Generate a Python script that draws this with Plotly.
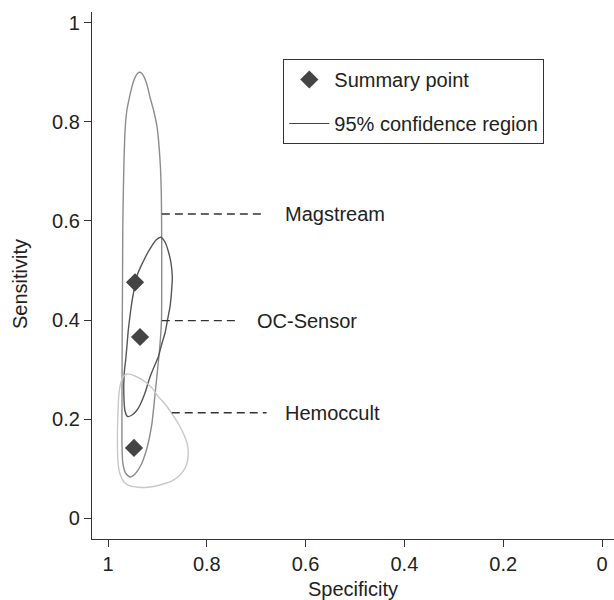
import plotly.graph_objects as go

# ---- data ----
# 95% confidence regions (specificity, sensitivity)
mag_spec = [0.9358, 0.9317, 0.9275, 0.9234, 0.9192, 0.9150, 0.9079, 0.9008, 0.8947, 0.8921,
            0.8913, 0.8913, 0.8917, 0.8957, 0.9008, 0.9059, 0.9115, 0.9211, 0.9332, 0.9453,
            0.9555, 0.9646, 0.9700, 0.9717, 0.9717, 0.9713, 0.9706, 0.9702, 0.9696, 0.9676,
            0.9650, 0.9617, 0.9566, 0.9524, 0.9483, 0.9441, 0.9400, 0.9358]
mag_sens = [0.9000, 0.8979, 0.8918, 0.8818, 0.8676, 0.8495, 0.8239, 0.7902, 0.7230, 0.6564,
            0.5615, 0.4808, 0.4001, 0.3396, 0.2891, 0.2387, 0.1883, 0.1419, 0.1075, 0.0894,
            0.0833, 0.0914, 0.1116, 0.1479, 0.2387, 0.3598, 0.4808, 0.5615, 0.6221, 0.7230,
            0.7902, 0.8239, 0.8495, 0.8676, 0.8818, 0.8918, 0.8979, 0.9000]

oc_spec = [0.8933, 0.8846, 0.8775, 0.8725, 0.8698, 0.8715, 0.8745, 0.8796, 0.8846, 0.8917,
           0.8982, 0.9069, 0.9150, 0.9251, 0.9352, 0.9419, 0.9514, 0.9605, 0.9656, 0.9676,
           0.9680, 0.9666, 0.9642, 0.9615, 0.9589, 0.9545, 0.9500, 0.9443, 0.9393, 0.9291,
           0.9200, 0.9115, 0.9028, 0.8933]
oc_sens = [0.5670, 0.5575, 0.5373, 0.5151, 0.4869, 0.4566, 0.4264, 0.4001, 0.3739, 0.3497,
           0.3255, 0.3053, 0.2851, 0.2528, 0.2286, 0.2175, 0.2084, 0.2054, 0.2165, 0.2387,
           0.2730, 0.2992, 0.3194, 0.3497, 0.3799, 0.4163, 0.4465, 0.4748, 0.4950, 0.5172,
           0.5353, 0.5494, 0.5615, 0.5670]

hem_spec = [0.9615, 0.9453, 0.9251, 0.9109, 0.8982, 0.8846, 0.8711, 0.8583, 0.8476, 0.8401,
            0.8375, 0.8391, 0.8441, 0.8543, 0.8704, 0.8947, 0.9190, 0.9387, 0.9555, 0.9676,
            0.9757, 0.9798, 0.9808, 0.9808, 0.9798, 0.9781, 0.9747, 0.9696, 0.9615]
hem_sens = [0.2912, 0.2871, 0.2756, 0.2629, 0.2454, 0.2306, 0.2119, 0.1923, 0.1715, 0.1519,
            0.1338, 0.1156, 0.1009, 0.0874, 0.0753, 0.0672, 0.0626, 0.0626, 0.0652, 0.0732,
            0.0894, 0.1136, 0.1419, 0.1782, 0.2145, 0.2488, 0.2710, 0.2851, 0.2912]

# summary points
tests = ["Magstream", "OC-Sensor", "Hemoccult"]
summary_spec = [0.9453, 0.9352, 0.9474]
summary_sens = [0.4762, 0.3658, 0.1419]

# label leader lines: (spec start, spec end, sens), label anchor spec
label_line_start = [0.891, 0.891, 0.871]
label_line_end = [0.686, 0.741, 0.679]
label_sens = [0.614, 0.399, 0.213]
label_text_spec = [0.646, 0.702, 0.646]

tick_vals = [0, 0.2, 0.4, 0.6, 0.8, 1]
tick_text = ["0", "0.2", "0.4", "0.6", "0.8", "1"]

FONT = "Liberation Sans, Arial, sans-serif"
TXT = "#222222"

fig = go.Figure()

contours = [
    (mag_spec, mag_sens, "#8c8c8c"),
    (oc_spec, oc_sens, "#555555"),
    (hem_spec, hem_sens, "#c8c8c8"),
]
for xs, ys, col in contours:
    fig.add_trace(go.Scatter(x=xs, y=ys, mode="lines",
                             line=dict(color=col, width=1.4, shape="spline", smoothing=0.6),
                             showlegend=False, hoverinfo="skip"))

fig.add_trace(go.Scatter(x=summary_spec, y=summary_sens, mode="markers",
                         marker=dict(symbol="diamond", size=14, color="#444444"),
                         name="Summary point", text=tests,
                         legendgroup="a", showlegend=True))

# legend entry for the confidence regions
fig.add_trace(go.Scatter(x=[None], y=[None], mode="lines",
                         line=dict(color="#444444", width=1.2),
                         name="95% confidence region", legendgroup="b", showlegend=True))

for i, name in enumerate(tests):
    fig.add_shape(type="line", xref="x", yref="y",
                  x0=label_line_start[i], x1=label_line_end[i],
                  y0=label_sens[i], y1=label_sens[i],
                  line=dict(color="#333333", width=1.3, dash="8px,5px"))
    fig.add_annotation(x=label_text_spec[i], y=label_sens[i], text=name,
                       xref="x", yref="y", xanchor="left", yanchor="middle",
                       showarrow=False, font=dict(family=FONT, size=20, color=TXT))

# y-axis title
fig.add_annotation(x=-0.1379, y=0.4839, xref="paper", yref="paper", text="Sensitivity",
                   textangle=-90, xanchor="center", yanchor="middle", showarrow=False,
                   font=dict(family=FONT, size=20, color=TXT))

axis_common = dict(showgrid=False, zeroline=False, showline=True, linecolor="#333333",
                   linewidth=1.2, ticks="outside", ticklen=7, tickwidth=1.2,
                   tickcolor="#333333", tickfont=dict(family=FONT, size=20, color=TXT),
                   tickvals=tick_vals, ticktext=tick_text, mirror=False)

fig.update_layout(
    width=614, height=600,
    margin=dict(l=92, r=0, t=12, b=61),
    plot_bgcolor="white", paper_bgcolor="white",
    xaxis=dict(range=[1.0324, -0.0243], title=dict(text="Specificity", standoff=9,
               font=dict(family=FONT, size=20, color=TXT)), **axis_common),
    yaxis=dict(range=[-0.0418, 1.0216], **axis_common),
    legend=dict(x=0.3665, y=0.9108, xanchor="left", yanchor="top",
                bordercolor="#333333", borderwidth=1, bgcolor="white",
                font=dict(family=FONT, size=20, color=TXT),
                traceorder="grouped", tracegroupgap=15, itemwidth=40),
    showlegend=True,
)

fig.write_html("out.html")
